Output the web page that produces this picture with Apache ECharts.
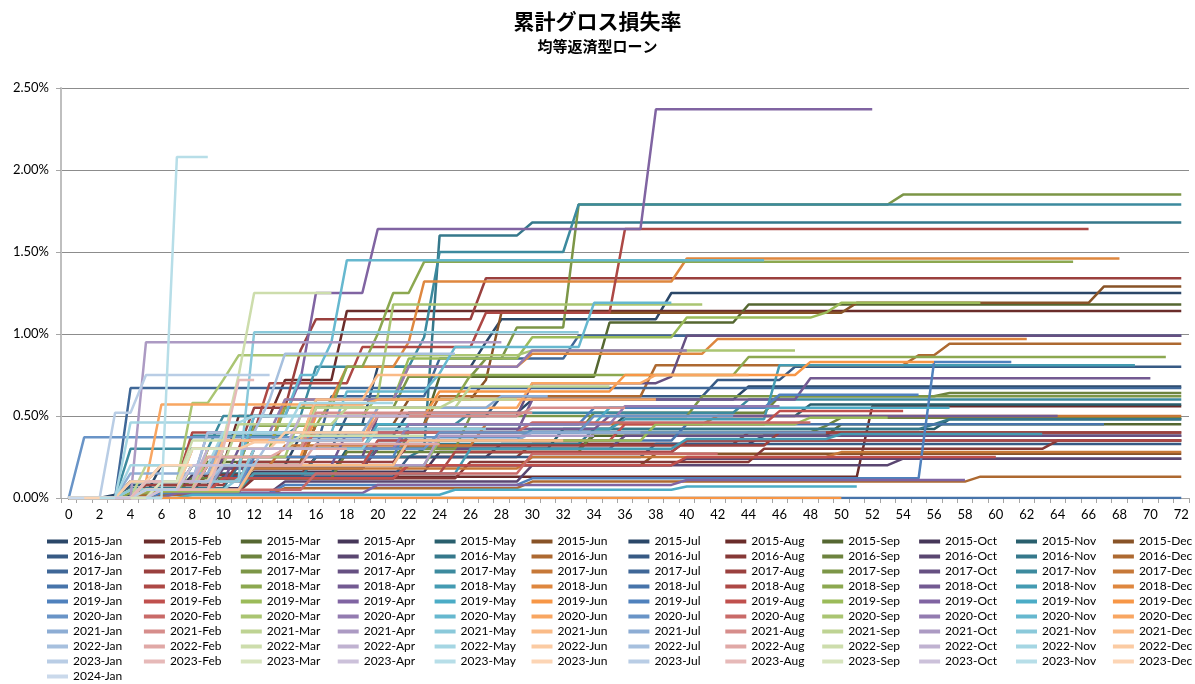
<!DOCTYPE html>
<html>
<head>
<meta charset="utf-8">
<script src="https://cdn.jsdelivr.net/npm/echarts@6/dist/echarts.min.js"></script>
<style>
  html, body { margin: 0; padding: 0; background: #fff; }
  #chart { width: 1195px; height: 684px; }
</style>
</head>
<body>
<div id="chart"></div>
<script>
// 経過月 (0〜72)
var monthLabels = [];
for (var i = 0; i <= 72; i++) monthLabels.push(String(i));

var cohortYears = [2015, 2016, 2017, 2018, 2019, 2020, 2021, 2022, 2023, 2024];
var monthAbbr = ['Jan', 'Feb', 'Mar', 'Apr', 'May', 'Jun', 'Jul', 'Aug', 'Sep', 'Oct', 'Nov', 'Dec'];
var yTicks = [0, 0.5, 1.0, 1.5, 2.0, 2.5];

// 各コホートの累計損失率(%)の変化点 [経過月, 値]
var lossSteps = [
  // 2015
  [[4,0.05],[9,0.2],[15,0.38],[22,0.52],[30,0.6],[44,0.68]],
  [[5,0.05],[12,0.13],[52,0.56]],
  [[4,0.08],[10,0.18],[20,0.3],[34,0.38],[50,0.45]],
  [[4,0.04],[8,0.14],[16,0.25],[28,0.33],[45,0.38]],
  [[5,0.1],[12,0.3],[20,0.42],[36,0.5],[48,0.57]],
  [[4,0.05],[10,0.12],[22,0.2],[38,0.27]],
  [[3,0.02],[6,0.2],[12,0.45],[20,0.8],[27,0.95],[28,1.09],[39,1.25]],
  [[4,0.05],[8,0.2],[11,0.5],[14,0.72],[18,1.14]],
  [[4,0.03],[9,0.22],[16,0.45],[24,0.74],[35,1.07],[44,1.18]],
  [[5,0.06],[12,0.16],[24,0.28],[40,0.35]],
  [[4,0.04],[9,0.15],[18,0.3],[32,0.42],[57,0.48]],
  [[4,0.04],[9,0.2],[16,0.45],[22,0.6],[27,0.72],[28,1.13],[51,1.19],[67,1.29]],
  // 2016
  [[4,0.08],[10,0.3],[18,0.5],[28,0.62],[42,0.72],[47,0.8]],
  [[4,0.06],[9,0.14],[16,0.25],[30,0.33],[44,0.4]],
  [[5,0.05],[12,0.2],[22,0.4],[34,0.52],[46,0.62],[57,0.64]],
  [[4,0.04],[10,0.12],[22,0.2],[40,0.24]],
  [[4,0.05],[10,0.12],[16,0.25],[23,0.3],[24,1.6],[30,1.68]],
  [[5,0.02],[14,0.06],[30,0.1],[59,0.13]],
  [[4,0.05],[10,0.13],[22,0.25],[38,0.33]],
  [[5,0.04],[12,0.12],[26,0.22],[45,0.3],[64,0.35]],
  [[4,0.03],[8,0.12],[18,0.28],[34,0.4],[49,0.44],[50,0.49]],
  [[6,0.03],[14,0.1],[30,0.2],[54,0.24]],
  [[4,0.06],[11,0.2],[20,0.33],[34,0.42],[56,0.45],[57,0.48]],
  [[4,0.05],[9,0.2],[16,0.45],[24,0.62],[38,0.81],[55,0.87],[57,0.94]],
  // 2017
  [[4,0.67]],
  [[4,0.04],[9,0.3],[12,0.55],[15,0.9],[16,1.09],[27,1.34]],
  [[4,0.05],[9,0.3],[16,0.55],[22,0.74],[27,0.85],[29,1.04],[33,1.79],[54,1.85]],
  [[5,0.05],[10,0.18],[20,0.3],[36,0.38]],
  [[4,0.1],[8,0.38],[15,0.45],[26,0.52],[44,0.6]],
  [[4,0.1],[12,0.18],[30,0.25],[50,0.28]],
  [[4,0.04],[10,0.3],[17,0.62],[24,0.85],[33,0.99]],
  [[5,0.08],[11,0.22],[22,0.32],[46,0.4]],
  [[5,0.1],[12,0.3],[26,0.5],[41,0.62]],
  [[4,0.05],[10,0.25],[20,0.5],[30,0.7],[39,0.74],[40,0.99]],
  [[4,0.3],[10,0.5],[16,0.8],[23,0.98],[24,1.5],[33,1.79]],
  [[4,0.1],[6,0.2],[14,0.32],[27,0.45],[42,0.5]],
  // 2018
  [],
  [[4,0.05],[12,0.15],[25,0.28],[40,0.35]],
  [[4,0.03],[8,0.2],[12,0.44],[17,0.6],[26,0.75],[44,0.86]],
  [[4,0.05],[10,0.2],[18,0.4],[30,0.6],[48,0.73]],
  [[4,0.05],[10,0.2],[20,0.35],[30,0.42],[36,0.48],[46,0.81]],
  [[4,0.05],[9,0.3],[14,0.6],[18,0.8],[22,0.95],[23,1.32],[40,1.46]],
  [[5,0.05],[12,0.2],[24,0.35],[40,0.45]],
  [[4,0.1],[8,0.4],[13,0.7],[19,0.92],[27,1.13],[36,1.64]],
  [[4,0.05],[9,0.3],[14,0.55],[18,0.8],[20,1.0],[21,1.25],[23,1.44]],
  [[4,0.1],[11,0.3],[22,0.42],[35,0.5]],
  [[5,0.05],[12,0.15],[26,0.3],[40,0.36],[50,0.39]],
  [[4,0.1],[10,0.35],[16,0.6],[22,0.8],[30,0.88],[42,0.97]],
  // 2019
  [[6,0.03],[14,0.08],[30,0.12],[56,0.83]],
  [[5,0.04],[10,0.12],[22,0.2],[40,0.25]],
  [[4,0.05],[10,0.3],[16,0.6],[22,0.85],[30,0.98],[40,1.1],[49,1.13],[50,1.19]],
  [[7,0.03],[20,0.08],[40,0.11]],
  [[4,0.1],[10,0.3],[20,0.45],[35,0.55]],
  [[4,0.05],[9,0.25],[16,0.5],[24,0.65],[36,0.75],[48,0.83]],
  [[5,0.05],[12,0.25],[22,0.45],[34,0.55],[46,0.63]],
  [[4,0.05],[10,0.2],[20,0.35],[36,0.45],[46,0.53]],
  [[5,0.04],[12,0.2],[24,0.35],[38,0.45],[48,0.49]],
  [[4,0.05],[8,0.2],[12,0.5],[15,0.72],[16,1.25],[20,1.64],[38,2.37]],
  [[8,0.02],[25,0.05],[40,0.07]],
  [],
  // 2020
  [[1,0.37],[30,0.4]],
  [[4,0.05],[8,0.3],[16,0.4],[30,0.46]],
  [[4,0.1],[8,0.58],[10,0.72],[11,0.87],[30,0.9]],
  [[5,0.1],[12,0.3],[22,0.45],[36,0.56]],
  [[4,0.05],[8,0.2],[12,0.5],[15,0.75],[17,0.95],[18,1.45]],
  [[4,0.1],[10,0.35],[20,0.55],[30,0.7],[38,0.75]],
  [[5,0.05],[12,0.3],[24,0.4],[34,0.5]],
  [[6,0.05],[16,0.15],[30,0.27]],
  [[4,0.05],[9,0.25],[15,0.5],[20,0.62],[21,1.18]],
  [[4,0.1],[9,0.4],[14,0.6],[22,0.8],[30,0.9]],
  [[4,0.1],[10,0.4],[18,0.65],[24,0.76],[25,0.92],[34,1.19]],
  [[4,0.1],[6,0.57],[20,0.6]],
  // 2021
  [[4,0.05],[10,0.2],[22,0.35],[30,0.4]],
  [[4,0.1],[10,0.35],[20,0.5],[30,0.55]],
  [[4,0.05],[9,0.3],[16,0.55],[26,0.68]],
  [[5,0.05],[12,0.2],[24,0.38]],
  [[4,0.05],[11,0.12],[12,1.01]],
  [[5,0.05],[12,0.2],[22,0.35]],
  [[4,0.15],[10,0.4],[20,0.55],[28,0.62]],
  [[6,0.1],[12,0.3],[16,0.52]],
  [[5,0.2],[11,0.45],[18,0.55],[25,0.6]],
  [[5,0.95]],
  [[4,0.1],[12,0.3],[20,0.42]],
  [[5,0.1],[10,0.35],[16,0.6],[20,0.75]],
  // 2022
  [[4,0.1],[9,0.4],[13,0.6],[14,0.88]],
  [[5,0.05],[9,0.2],[16,0.33]],
  [[5,0.05],[8,0.3],[15,0.38]],
  [[5,0.1],[10,0.3],[15,0.5]],
  [[4,0.2],[10,0.4],[15,0.58]],
  [[4,0.1],[10,0.3],[14,0.4]],
  [[5,0.1],[10,0.2],[13,0.35]],
  [[5,0.1],[9,0.25],[14,0.3]],
  [[5,0.1],[8,0.35],[11,0.75],[12,1.25]],
  [[5,0.1],[9,0.3]],
  [[4,0.46],[12,0.5]],
  [[5,0.05],[8,0.3],[12,0.34]],
  // 2023
  [[3,0.52],[5,0.75]],
  [[6,0.05],[10,0.3],[11,0.72]],
  [[6,0.1],[8,0.3]],
  [[6,0.05],[8,0.2]],
  [[7,2.08]],
  [[5,0.1],[6,0.2]],
  [[5,0.05]],
  [[5,0.1]],
  [],
  [],
  [],
  [],
  // 2024
  []
];

// 色: 6色の基本色を年ごとに濃淡
var baseColors = ['#4F81BD', '#C0504D', '#9BBB59', '#8064A2', '#4BACC6', '#F79646'];
var yearShade = [-0.45, -0.3, -0.2, -0.1, 0, 0.15, 0.35, 0.5, 0.6, 0.7];

function shadeColor(hex, s) {
  var r = parseInt(hex.substr(1, 2), 16), g = parseInt(hex.substr(3, 2), 16), b = parseInt(hex.substr(5, 2), 16);
  function f(c) {
    var v = s < 0 ? c * (1 + s) : c + (255 - c) * s;
    return Math.round(v);
  }
  return 'rgb(' + f(r) + ',' + f(g) + ',' + f(b) + ')';
}

var names = [];
var series = [];
var k = 0;
cohortYears.forEach(function (y, yi) {
  monthAbbr.forEach(function (m, mi) {
    if (k >= lossSteps.length) return;
    var name = y + '-' + m;
    // データはコホート開始から2024年2月まで
    var last = Math.min(72, 109 - k);
    var steps = lossSteps[k];
    var data = [];
    for (var t = 0; t <= last; t++) {
      var v = 0;
      steps.forEach(function (s) { if (s[0] <= t) v = s[1]; });
      data.push(v);
    }
    var color = shadeColor(baseColors[mi % 6], yearShade[yi]);
    names.push(name);
    series.push({
      name: name,
      type: 'line',
      data: data,
      symbol: 'none',
      color: color,
      lineStyle: { width: 2.5, color: color },
      emphasis: { disabled: true }
    });
    k++;
  });
});

var myChart = echarts.init(document.getElementById('chart'));
var option = {
  animation: false,
  backgroundColor: '#fff',
  title: {
    text: '累計グロス損失率',
    subtext: '均等返済型ローン',
    left: 'center',
    top: 6,
    itemGap: 7,
    textStyle: { fontFamily: 'Noto Sans CJK JP', fontSize: 21, fontWeight: 'bold', color: '#000' },
    subtextStyle: { fontFamily: 'Noto Sans CJK JP', fontSize: 15, fontWeight: 'bold', color: '#000' }
  },
  legend: {
    data: names,
    left: 47,
    top: 534,
    padding: 0,
    width: 1170,
    itemWidth: 21,
    itemHeight: 4,
    itemGap: 0,
    icon: 'rect',
    selectedMode: false,
    textStyle: { fontFamily: 'Lato', fontSize: 12, color: '#000', width: 70.9, height: 15, lineHeight: 15 }
  },
  grid: { left: 61, right: 6, top: 88, bottom: 186 },
  xAxis: {
    type: 'category',
    data: monthLabels,
    boundaryGap: true,
    axisLine: { lineStyle: { color: '#A6A6A6' } },
    axisTick: { show: true, interval: 0, length: 5, lineStyle: { color: '#A6A6A6' } },
    axisLabel: { interval: 1, fontFamily: 'Lato', fontSize: 13, color: '#000', margin: 10 }
  },
  yAxis: {
    type: 'value',
    min: yTicks[0],
    max: yTicks[yTicks.length - 1],
    interval: 0.5,
    axisLine: { show: true, lineStyle: { color: '#BFBFBF', width: 2 } },
    axisTick: { show: true, length: 5, lineStyle: { color: '#A6A6A6' } },
    axisLabel: {
      fontFamily: 'Lato', fontSize: 13, color: '#000', margin: 12,
      formatter: function (v) { return v.toFixed(2) + '%'; }
    },
    splitLine: { lineStyle: { color: '#8C8C8C', width: 1 } }
  },
  series: series
};
myChart.setOption(option);
</script>
</body>
</html>
